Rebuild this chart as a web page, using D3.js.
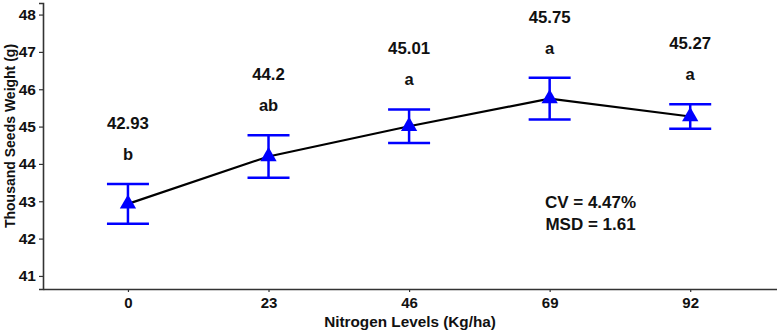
<!DOCTYPE html>
<html><head><meta charset="utf-8">
<script src="https://cdn.jsdelivr.net/npm/d3@7"></script>
<style>body{margin:0;background:#fff}svg{display:block}
text{font-family:"Liberation Sans",Arial,sans-serif;font-weight:bold}</style>
</head><body><svg id="c" width="777" height="334"></svg>
<script>
const levels = [0, 23, 46, 69, 92];
const means = [42.93, 44.2, 45.01, 45.75, 45.27];
const errs = [0.53, 0.57, 0.45, 0.56, 0.33];
const letters = ["b", "ab", "a", "a", "a"];
const yTicks = [41, 42, 43, 44, 45, 46, 47, 48];
const stats = ["CV = 4.47%", "MSD = 1.61"];

const svg = d3.select("#c");
const x = d3.scaleLinear().domain([-13.9, 106.2]).range([43, 777]);
const y = d3.scaleLinear().domain([40.65, 48.31]).range([289, 3]);
const axisCol = "#333";

// y axis
const ya = svg.append("g").attr("transform","translate(43,0)")
  .call(d3.axisLeft(y).tickValues(yTicks).tickSize(4).tickPadding(3).tickFormat(d3.format("d")));
ya.select(".domain").attr("stroke",axisCol).attr("stroke-width",1.6);
ya.selectAll(".tick line").attr("stroke",axisCol).attr("stroke-width",1.2);
ya.selectAll(".tick text").attr("font-size",15.5).attr("fill","#111");

// x axis
const xa = svg.append("g").attr("transform","translate(0,289)")
  .call(d3.axisBottom(x).tickValues(levels).tickSize(3).tickPadding(5).tickSizeOuter(0));
xa.select(".domain").attr("stroke",axisCol).attr("stroke-width",1.6);
xa.selectAll(".tick line").attr("stroke",axisCol).attr("stroke-width",1.2);
xa.selectAll(".tick text").attr("font-size",15).attr("fill","#111");

// titles
svg.append("text").attr("x",410).attr("y",327).attr("text-anchor","middle")
  .attr("font-size",15.3).attr("fill","#111").text("Nitrogen Levels (Kg/ha)");
svg.append("text").attr("transform","translate(15,136) rotate(-90)").attr("text-anchor","middle")
  .attr("font-size",14).attr("fill","#111").text("Thousand Seeds Weight (g)");

// line
svg.append("path").datum(levels.map((l,i)=>[l,means[i]]))
  .attr("d", d3.line().x(d=>x(d[0])).y(d=>y(d[1])))
  .attr("fill","none").attr("stroke","#000").attr("stroke-width",2.2);

// error bars
const eb = svg.append("g").attr("stroke","#0000ff").attr("stroke-width",2.5);
levels.forEach((l,i)=>{
  const cx = x(l), t = y(means[i]+errs[i]), b = y(means[i]-errs[i]);
  eb.append("line").attr("x1",cx).attr("x2",cx).attr("y1",t).attr("y2",b);
  eb.append("line").attr("x1",cx-21).attr("x2",cx+21).attr("y1",t).attr("y2",t);
  eb.append("line").attr("x1",cx-21).attr("x2",cx+21).attr("y1",b).attr("y2",b);
});

// triangles
svg.append("g").selectAll("path").data(levels).join("path")
  .attr("transform",(d,i)=>`translate(${x(d)},${y(means[i])})`)
  .attr("d", d3.symbol().type(d3.symbolTriangle).size(115))
  .attr("fill","#0000ff");

// labels
levels.forEach((l,i)=>{
  const top = y(means[i]+errs[i]);
  svg.append("text").attr("x",x(l)).attr("y",top-24).attr("text-anchor","middle")
    .attr("font-size",16.5).attr("fill","#111").text(letters[i]);
  svg.append("text").attr("x",x(l)).attr("y",top-55).attr("text-anchor","middle")
    .attr("font-size",16.8).attr("fill","#111").text(means[i]);
});

// stats
stats.forEach((s,i)=>{
  svg.append("text").attr("x",590.5).attr("y",208.3+i*22).attr("text-anchor","middle")
    .attr("font-size",17).attr("fill","#111").text(s);
});
</script></body></html>
